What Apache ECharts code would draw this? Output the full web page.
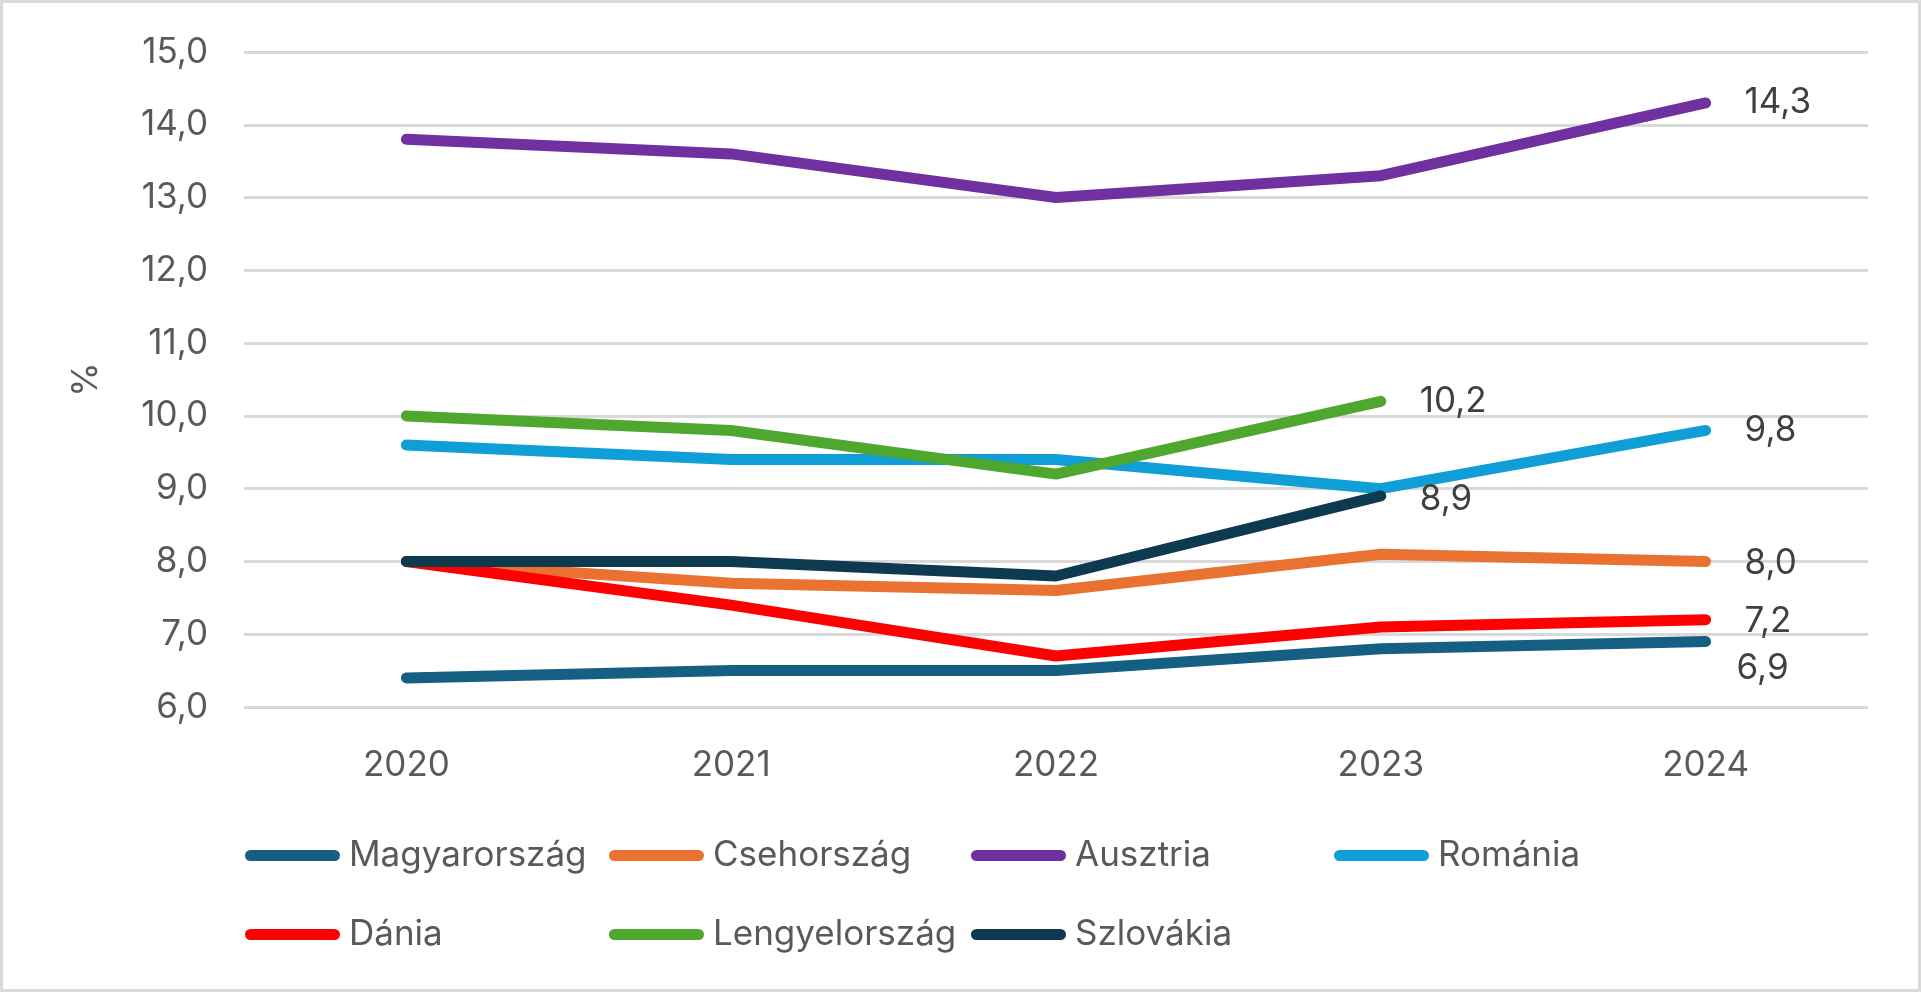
<!DOCTYPE html>
<html>
<head>
<meta charset="utf-8">
<script src="https://cdn.jsdelivr.net/npm/echarts@6/dist/echarts.min.js"></script>
<style>
html,body{margin:0;padding:0;background:#fff;}
#c{width:1921px;height:992px;}
</style>
</head>
<body>
<div id="c"></div>
<script>
// ---- data ----
const years = ['2020', '2021', '2022', '2023', '2024'];
const magyarorszag = [6.4, 6.5, 6.5, 6.8, 6.9];
const csehorszag = [8.0, 7.7, 7.6, 8.1, 8.0];
const ausztria = [13.8, 13.6, 13.0, 13.3, 14.3];
const romania = [9.6, 9.4, 9.4, 9.0, 9.8];
const dania = [8.0, 7.4, 6.7, 7.1, 7.2];
const lengyelorszag = [10.0, 9.8, 9.2, 10.2];
const szlovakia = [8.0, 8.0, 7.8, 8.9];
const seriesNames = ['Magyarország', 'Csehország', 'Ausztria', 'Románia', 'Dánia', 'Lengyelország', 'Szlovákia'];
const seriesValues = [magyarorszag, csehorszag, ausztria, romania, dania, lengyelorszag, szlovakia];
const yTicks = { min: 6, max: 15, interval: 1 };

// ---- styling ----
const colors = ['#156082', '#E97132', '#7030A0', '#0F9ED5', '#FF0000', '#4EA72E', '#0E3A4F'];
const labelOffsets = [[-8, 27], [0, 2], [0, 0], [0, 0], [0, 2], [0, 0], [0, 4]];
const legendPos = [[245, 851], [609, 851], [971, 851], [1334, 851], [245, 930], [609, 930], [971, 930]];
const FONT = 'Inter, "Open Sans", sans-serif';
const FS = 35;
const fmt = v => Number(v).toFixed(1).replace('.', ',');
const capsule = 'path://M5.5,0 H89.5 A5.5,5.5 0 0 1 89.5,11 H5.5 A5.5,5.5 0 0 1 5.5,0 Z';

const chart = echarts.init(document.getElementById('c'), null, { renderer: 'canvas' });

const series = seriesNames.map((name, i) => ({
  name: name,
  type: 'line',
  data: seriesValues[i],
  showSymbol: false,
  symbol: 'none',
  color: colors[i],
  lineStyle: { width: 11, color: colors[i], cap: 'round', join: 'round' },
  emphasis: { disabled: true },
  endLabel: {
    show: true,
    distance: 39,
    offset: labelOffsets[i],
    color: '#404040',
    fontSize: FS,
    fontFamily: FONT,
    formatter: p => fmt(p.value)
  },
  z: 2 + i
}));

const legends = seriesNames.map((name, i) => ({
  data: [name],
  left: legendPos[i][0],
  top: legendPos[i][1] - 13,
  itemWidth: 95,
  itemHeight: 11,
  itemGap: 0,
  icon: capsule,
  selectedMode: false,
  padding: 0,
  textStyle: { color: '#595959', fontSize: FS, fontFamily: FONT, padding: [0, 0, 0, 4] }
}));

chart.setOption({
  animation: false,
  backgroundColor: '#ffffff',
  graphic: [{
    type: 'rect',
    shape: { x: 1.5, y: 1.5, width: 1918, height: 989 },
    style: { fill: 'none', stroke: '#D9D9D9', lineWidth: 3 },
    silent: true
  }],
  grid: { left: 244, right: 53, top: 52, bottom: 285, containLabel: false },
  legend: legends,
  xAxis: {
    type: 'category',
    data: years,
    boundaryGap: true,
    axisLine: { show: false },
    axisTick: { show: false },
    axisLabel: { color: '#595959', fontSize: FS, fontFamily: FONT, margin: 41 }
  },
  yAxis: {
    type: 'value',
    min: yTicks.min,
    max: yTicks.max,
    interval: yTicks.interval,
    name: '%',
    nameLocation: 'middle',
    nameRotate: 90,
    nameGap: 140,
    nameTextStyle: { color: '#595959', fontSize: FS, fontFamily: FONT },
    axisLine: { show: false },
    axisTick: { show: false },
    splitLine: { lineStyle: { color: '#D9D9D9', width: 3 } },
    axisLabel: { color: '#595959', fontSize: FS, fontFamily: FONT, margin: 36, formatter: v => fmt(v) }
  },
  series: series
});
</script>
</body>
</html>
